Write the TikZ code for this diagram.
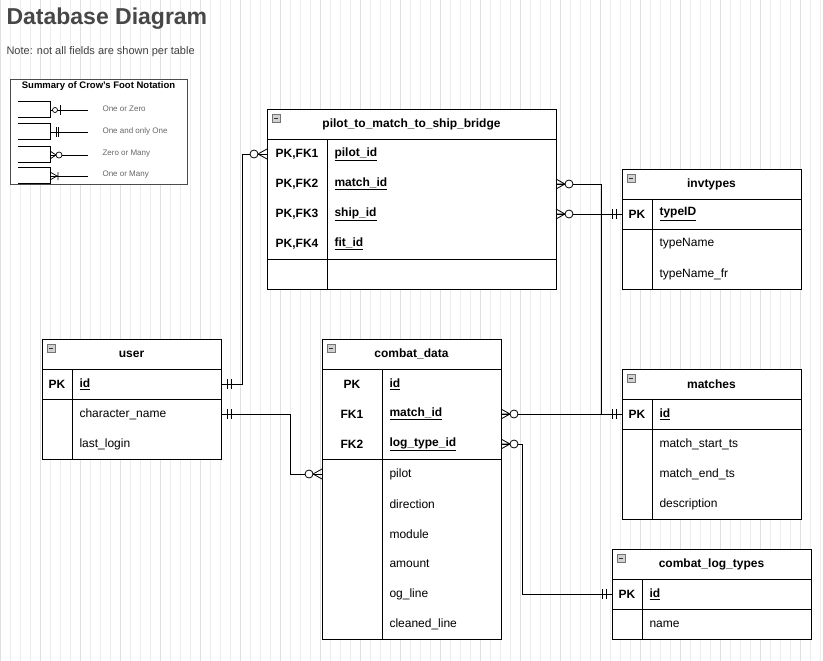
\documentclass[tikz,border=0pt]{standalone}
\usepackage{fontspec}
\setmainfont{Liberation Sans}
\begin{document}
\begin{tikzpicture}[x=1pt,y=-1pt,
  tb/.style={draw=black,line width=0.8pt},
  ln/.style={draw=black,line width=0.8pt},
  conn/.style={draw=black,line width=0.9pt},
  hd/.style={font=\fontsize{12}{14}\selectfont\bfseries},
  ky/.style={font=\fontsize{12}{14}\selectfont\bfseries},
  kn/.style={font=\fontsize{12}{14}\selectfont\bfseries,anchor=west},
  fd/.style={font=\fontsize{12}{14}\selectfont,anchor=west},
  lg/.style={font=\fontsize{8}{9}\selectfont,text=black!60,anchor=west}]
\useasboundingbox (0,0) rectangle (823,661);
\fill[white] (0,0) rectangle (823,661);
\draw[black!7,line width=0.5pt,step=10] (0,0) grid (823,661);
\draw[black!12,line width=0.6pt,step=40] (0,0) grid (823,661);
\newcommand\mybox[2]{\draw[black!55,fill=black!18,line width=0.5pt] (#1+5,#2+5) rectangle (#1+13,#2+13);\draw[black!80,line width=0.7pt] (#1+7,#2+9)--(#1+11,#2+9);}
\newcommand\myzm[3]{\begin{scope}[shift={(#1,#2)},xscale=#3]\draw[line width=0.8pt] (0,-5)--(9,0)--(0,5) (0,0)--(9,0);\draw[line width=0.8pt,fill=white] (13,0) circle (4);\end{scope}}
\newcommand\myoo[3]{\begin{scope}[shift={(#1,#2)},xscale=#3]\draw[line width=0.8pt] (6,-5)--(6,5) (10,-5)--(10,5);\end{scope}}
\newcommand\myzo[3]{\begin{scope}[shift={(#1,#2)},xscale=#3]\draw[line width=0.8pt] (0,-5)--(9,0)--(0,5);\draw[line width=0.8pt,fill=white] (13,0) circle (4);\end{scope}}
% title
\node[anchor=west,text=black!72,font=\fontsize{23}{26}\selectfont\bfseries] (title) at (3,19) {Database Diagram};
\node[anchor=west,text=black!75,font=\fontsize{11}{13}\selectfont] (note) at (3,52) {Note: not all fields are shown per table};
% legend
\draw[black!70,fill=white,line width=0.6pt] (10,79) rectangle (187,184);
\node[font=\fontsize{9.5}{11}\selectfont\bfseries] (lgt) at (98.5,86) {Summary of Crow's Foot Notation};
\foreach \yy/\t in {110/One or Zero,132/One and only One,155/Zero or Many,176/One or Many}{
  \draw[line width=0.7pt] (18,\yy-9)--(50,\yy-9)--(50,\yy+7)--(18,\yy+7);
  \draw[line width=0.7pt] (50,\yy)--(88,\yy);
  \node[lg] at (99,\yy-1) {\t};
}
\draw[line width=0.7pt] (60,105)--(60,115); \draw[line width=0.7pt,fill=white] (55,110) circle (2.5);
\draw[line width=0.7pt] (56,127)--(56,137) (58,127)--(58,137);
\draw[line width=0.7pt] (50,151)--(56,155)--(50,159); \draw[line width=0.7pt,fill=white] (59,155) circle (3);
\draw[line width=0.7pt] (50,172)--(57,176)--(50,180) (58,172)--(58,180);
% bridge
\draw[tb,fill=white] (267,109) rectangle (556,289);
\draw[ln] (267,139)--(556,139) (267,259)--(556,259) (327,139)--(327,289);
\mybox{267}{109}
\node[hd] (bridge) at (411.5,124) {pilot\_to\_match\_to\_ship\_bridge};
\foreach \yy/\a/\b in {154/{PK,FK1}/pilot\_id,184/{PK,FK2}/match\_id,214/{PK,FK3}/ship\_id,244/{PK,FK4}/fit\_id}{
  \node[ky] at (297,\yy) {\a}; \node[kn] at (331,\yy) {\underline{\b}};}
% invtypes
\draw[tb,fill=white] (622,169) rectangle (801,289);
\draw[ln] (622,199)--(801,199) (622,229)--(801,229) (652,199)--(652,289);
\mybox{622}{169}
\node[hd] (inv) at (711.5,184) {invtypes};
\node[ky] at (637,214) {PK}; \node[kn] at (656,214) {\underline{typeID}};
\node[fd] at (656,244) {typeName}; \node[fd] at (656,274) {typeName\_fr};
% user
\draw[tb,fill=white] (42,339) rectangle (221,459);
\draw[ln] (42,369)--(221,369) (42,399)--(221,399) (72,369)--(72,459);
\mybox{42}{339}
\node[hd] (user) at (131.5,354) {user};
\node[ky] at (57,384) {PK}; \node[kn] at (76,384) {\underline{id}};
\node[fd] at (76,414) {character\_name}; \node[fd] at (76,444) {last\_login};
% combat_data
\draw[tb,fill=white] (322,339) rectangle (501,639);
\draw[ln] (322,369)--(501,369) (322,459)--(501,459) (382,369)--(382,639);
\mybox{322}{339}
\node[hd] (cd) at (411.5,354) {combat\_data};
\foreach \yy/\a/\b in {384/PK/id,414/FK1/match\_id,444/FK2/log\_type\_id}{
  \node[ky] at (352,\yy) {\a}; \node[kn] at (386,\yy) {\underline{\b}};}
\foreach \yy/\b in {474/pilot,504/direction,534/module,564/amount,594/og\_line,624/cleaned\_line}{
  \node[fd] at (386,\yy) {\b};}
% matches
\draw[tb,fill=white] (622,369) rectangle (801,519);
\draw[ln] (622,399)--(801,399) (622,429)--(801,429) (652,399)--(652,519);
\mybox{622}{369}
\node[hd] (matches) at (711.5,384) {matches};
\node[ky] at (637,414) {PK}; \node[kn] at (656,414) {\underline{id}};
\foreach \yy/\b in {444/match\_start\_ts,474/match\_end\_ts,504/description}{\node[fd] at (656,\yy) {\b};}
% combat_log_types
\draw[tb,fill=white] (612,549) rectangle (811,639);
\draw[ln] (612,579)--(811,579) (612,609)--(811,609) (642,579)--(642,639);
\mybox{612}{549}
\node[hd] (clt) at (711.5,564) {combat\_log\_types};
\node[ky] at (627,594) {PK}; \node[kn] at (646,594) {\underline{id}};
\node[fd] at (646,624) {name};
% connector endpoints
\coordinate (u1) at (221,384); \coordinate (b1) at (267,154);
\coordinate (b2) at (556,184); \coordinate (m1) at (622,414);
\coordinate (b3) at (556,214); \coordinate (i1) at (622,214);
\coordinate (c1) at (501,414);
\coordinate (c2) at (501,444); \coordinate (l1) at (612,594);
\coordinate (u2) at (221,414); \coordinate (c3) at (322,474);
\draw[conn] (u1) -- (242,384) |- (b1);
\draw[conn] (b2) -- (601,184) |- (m1);
\draw[conn] (b3) -- (i1);
\draw[conn] (c1) -- (m1);
\draw[conn] (c2) -- (522,444) |- (l1);
\draw[conn] (u2) -- (290,414) |- (c3);
\myoo{221}{384}{1} \myzo{267}{154}{-1}
\myzm{556}{184}{1} \myoo{622}{414}{-1}
\myzm{556}{214}{1} \myoo{622}{214}{-1}
\myzm{501}{414}{1}
\myzm{501}{444}{1} \myoo{612}{594}{-1}
\myoo{221}{414}{1} \myzo{322}{474}{-1}
\end{tikzpicture}
\end{document}
